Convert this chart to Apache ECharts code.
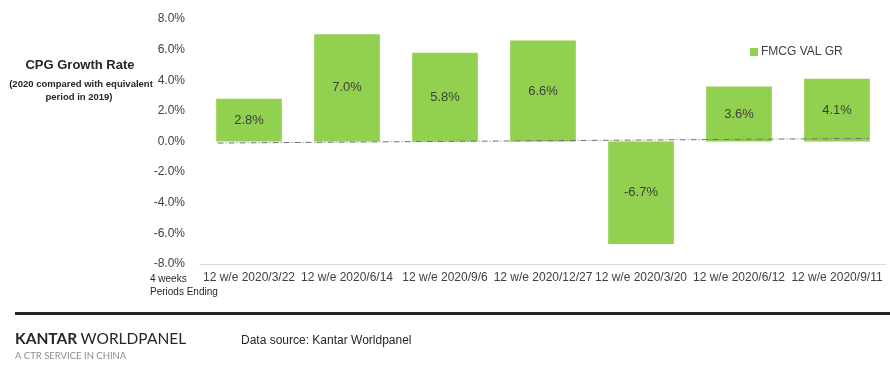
<!DOCTYPE html>
<html>
<head>
<meta charset="utf-8">
<script src="https://cdn.jsdelivr.net/npm/echarts@6/dist/echarts.min.js"></script>
<style>html,body{margin:0;padding:0;background:#fff;}#c{width:890px;height:365px;}</style>
</head>
<body>
<div id="c"></div>
<script>
const categories = ['12 w/e 2020/3/22','12 w/e 2020/6/14','12 w/e 2020/9/6','12 w/e 2020/12/27','12 w/e 2020/3/20','12 w/e 2020/6/12','12 w/e 2020/9/11'];
const values = [2.8, 7.0, 5.8, 6.6, -6.7, 3.6, 4.1];
const seriesName = 'FMCG VAL GR';
const trendX = [0.18, 6.82];
const trendY = [-0.1, 0.2];
const yTicks = {min: -8, max: 8, interval: 2};

const chart = echarts.init(document.getElementById('c'));
const txt = '#404040';
const F = 'Liberation Sans, Arial, sans-serif';
chart.setOption({
  animation: false,
  textStyle: {fontFamily: F},
  grid: {left: 200, right: 4, top: 19, bottom: 101},
  legend: {
    data: [seriesName], left: 745, top: 41, icon: 'rect', itemWidth: 8, itemHeight: 8, itemGap: 4,
    textStyle: {fontSize: 12, color: txt, padding: [0,0,0,-2]}
  },
  xAxis: [{
    type: 'category', data: categories,
    axisLine: {show: true, onZero: false, lineStyle: {color: '#d9d9d9'}},
    axisTick: {show: false},
    axisLabel: {fontSize: 12, color: txt, margin: 8, interval: 0}
  }, {
    type: 'value', min: 0, max: 7, show: false
  }],
  yAxis: {
    type: 'value', min: yTicks.min, max: yTicks.max, interval: yTicks.interval,
    axisLine: {show: false}, axisTick: {show: false}, splitLine: {show: false},
    axisLabel: {fontSize: 12, color: txt, margin: 15, formatter: v => v.toFixed(1) + '%'}
  },
  series: [{
    name: seriesName, type: 'bar', data: values, barCategoryGap: '33%',
    itemStyle: {color: '#92D050'},
    label: {show: true, position: 'inside', fontSize: 13, color: txt, formatter: p => p.value.toFixed(1) + '%'}
  }, {
    type: 'line', xAxisIndex: 1, data: trendX.map((x, i) => [x, trendY[i]]),
    symbol: 'none', lineStyle: {color: '#6f6f6f', width: 1, type: [6, 2, 1, 2]}, silent: true, z: 5
  }],
  graphic: [
    {type: 'text', x: 80, y: 65, style: {text: 'CPG Growth Rate', font: 'bold 13px ' + F, fill: '#262626', align: 'center', verticalAlign: 'middle'}},
    {type: 'text', x: 81, y: 84, style: {text: '(2020 compared with equivalent', font: 'bold 9.5px ' + F, fill: '#262626', align: 'center', verticalAlign: 'middle'}},
    {type: 'text', x: 79, y: 97, style: {text: 'period in 2019)', font: 'bold 9.5px ' + F, fill: '#262626', align: 'center', verticalAlign: 'middle'}},
    {type: 'text', x: 150, y: 279, style: {text: '4 weeks', font: '10px ' + F, fill: '#262626', verticalAlign: 'middle'}},
    {type: 'text', x: 150, y: 292, style: {text: 'Periods Ending', font: '10px ' + F, fill: '#262626', verticalAlign: 'middle'}},
    {type: 'rect', shape: {x: 15, y: 312, width: 875, height: 3}, style: {fill: '#262626'}},
    {type: 'text', x: 15, y: 339, style: {text: '{b|KANTAR} {r|WORLDPANEL}', verticalAlign: 'middle', rich: {b: {font: 'bold 15.5px Lato, sans-serif', fill: '#262626'}, r: {font: '15.5px Lato, sans-serif', fill: '#262626'}}}},
    {type: 'text', x: 15, y: 356, style: {text: 'A CTR SERVICE IN CHINA', font: '9.5px Lato, sans-serif', fill: '#8c8c8c', verticalAlign: 'middle'}},
    {type: 'text', x: 241, y: 341, style: {text: 'Data source: Kantar Worldpanel', font: '12px ' + F, fill: '#262626', verticalAlign: 'middle'}}
  ]
});
</script>
</body>
</html>
